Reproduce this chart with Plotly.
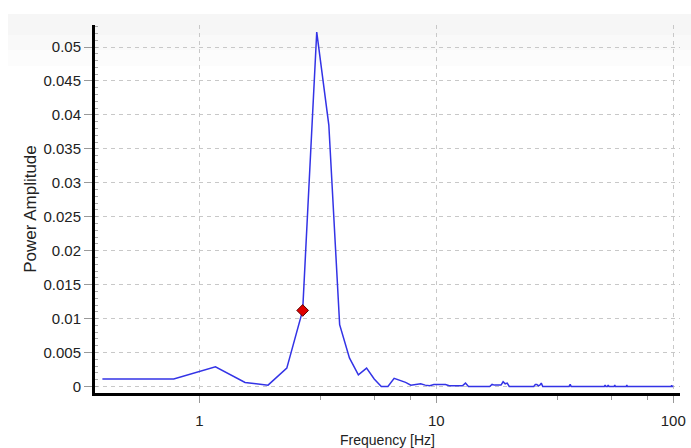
import plotly.graph_objects as go

# ---- data ----
freq_hz = [0.39, 0.78, 1.17, 1.56, 1.95, 2.34, 2.73, 3.13, 3.52, 3.91, 4.30, 4.69,
           5.08, 5.47, 5.86, 6.25, 6.64, 7.03, 7.42, 7.81, 8.20, 8.59, 8.98, 9.38,
           9.77, 10.16, 10.55, 10.94, 11.33, 11.72, 12.50, 12.89, 13.28, 13.67,
           16.80, 17.19, 17.58, 17.97, 18.36, 18.75, 19.14, 19.53, 19.92, 20.31,
           25.78, 26.17, 26.56, 26.95, 27.34, 27.73, 28.13, 36.33, 36.72, 37.11,
           51.17, 51.56, 51.95, 52.73, 53.13, 53.52, 56.25, 56.64, 57.03,
           63.28, 63.67, 64.06, 98.05, 98.44, 98.83, 100.0]
amplitude = [0.0011, 0.0011, 0.0029, 0.0006, 0.0002, 0.0027, 0.0112, 0.0522, 0.0385, 0.0091, 0.0042, 0.0017,
             0.0027, 0.0011, 0.0000, 0.0000, 0.0012, 0.0009, 0.0006, 0.0002, 0.0003, 0.0004, 0.0002, 0.0001,
             0.0003, 0.0003, 0.0002, 0.0003, 0.0001, 0.0001, 0.0001, 0.0001, 0.0005, 0.0000,
             0.0000, 0.0003, 0.0002, 0.0002, 0.0001, 0.0002, 0.0007, 0.0004, 0.0005, 0.0000,
             0.0000, 0.0003, 0.0003, 0.0001, 0.0002, 0.0005, 0.0000, 0.0000, 0.0003, 0.0000,
             0.0000, 0.0002, 0.0000, 0.0000, 0.0002, 0.0000, 0.0000, 0.0002, 0.0000,
             0.0000, 0.0002, 0.0000, 0.0000, 0.0002, 0.0000, 0.0000]
marker_freq = [2.73]
marker_amp = [0.0112]

y_tickvals = [0, 0.005, 0.01, 0.015, 0.02, 0.025, 0.03, 0.035, 0.04, 0.045, 0.05]
y_ticktext = ["0", "0.005", "0.01", "0.015", "0.02", "0.025", "0.03", "0.035", "0.04", "0.045", "0.05"]
x_tickvals = [1, 10, 100]
x_ticktext = ["1", "10", "100"]
x_minor = [3.25, 5.5, 7.75, 32.5, 55, 77.5]

FONT = "Liberation Sans, Arial, sans-serif"

fig = go.Figure()
fig.add_trace(go.Scatter(x=freq_hz, y=amplitude, mode="lines",
                         line=dict(color="#3333e6", width=1.5), showlegend=False))
fig.add_trace(go.Scatter(x=marker_freq, y=marker_amp, mode="markers",
                         marker=dict(symbol="diamond", size=9, color="#e00000",
                                     line=dict(color="#5a0000", width=1)),
                         showlegend=False))

# faint top gradient band
W, H = 691, 448
L, R, T, B = 95, 680, 25, 393
def px(x): return (x - L) / (R - L)
def py(y): return (B - y) / (B - T)
for (y0, y1, c) in [(14, 35, "#f6f6f6"), (35, 50, "#f9f9f9"), (50, 66, "#fcfcfc")]:
    fig.add_shape(type="rect", xref="paper", yref="paper", x0=px(8), x1=px(691),
                  y0=py(y1), y1=py(y0), fillcolor=c, line=dict(width=0), layer="below")

fig.update_layout(
    width=W, height=H,
    margin=dict(l=L, r=W - R, t=T, b=H - B),
    paper_bgcolor="white", plot_bgcolor="rgba(0,0,0,0)",
    font=dict(family=FONT, size=14, color="#222222"),
    showlegend=False,
)
fig.update_xaxes(
    type="log", range=[-0.4401, 2.0283], automargin=False,
    tickmode="array", tickvals=x_tickvals, ticktext=x_ticktext,
    ticks="outside", ticklen=7, tickcolor="#999999", tickwidth=1,
    showgrid=True, gridcolor="#c8c8c8", griddash="4px,4px", gridwidth=1,
    showline=True, linecolor="black", linewidth=3,
    zeroline=False, ticklabelstandoff=5,
    minor=dict(tickmode="array", tickvals=x_minor, ticks="outside", ticklen=4,
               tickcolor="#999999", showgrid=False),
    title=dict(text="Frequency [Hz]", font=dict(size=14, family=FONT), standoff=9),
    tickfont=dict(size=15, family=FONT),
)
fig.update_yaxes(
    range=[-0.00096, 0.05324], automargin=False,
    tickmode="array", tickvals=y_tickvals, ticktext=y_ticktext,
    ticks="outside", ticklen=8, tickcolor="#999999", tickwidth=1,
    showgrid=True, gridcolor="#c8c8c8", griddash="4px,4px", gridwidth=1,
    showline=True, linecolor="black", linewidth=3,
    zeroline=False,
    minor=dict(dtick=0.001, tick0=0, ticks="inside", ticklen=3, tickcolor="#aaaaaa",
               showgrid=False),
    title=dict(text="Power Amplitude", font=dict(size=17, family=FONT), standoff=3),
    tickfont=dict(size=15, family=FONT),
)
fig.write_html("out.html")
